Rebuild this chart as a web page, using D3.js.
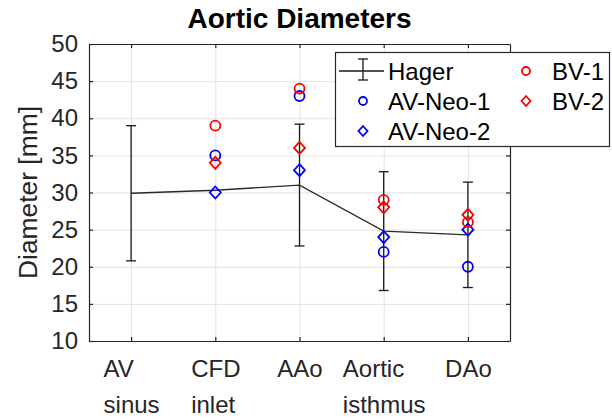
<!DOCTYPE html>
<html>
<head>
<meta charset="utf-8">
<script src="https://cdn.jsdelivr.net/npm/d3@7"></script>
<style>
  body { margin: 0; background: #fff; }
  svg { font-family: "Liberation Sans", Arial, sans-serif; }
</style>
</head>
<body>
<script>
//chart data
var categories = ["AV sinus", "CFD inlet", "AAo", "Aortic isthmus", "DAo"];
var categoryLines = [["AV", "sinus"], ["CFD", "inlet"], ["AAo"], ["Aortic", "isthmus"], ["DAo"]];
var hagerMean = [29.9, 30.3, 31.0, 24.8, 24.3];
var hagerSd = [9.1, null, 8.2, 8.0, 7.1];
var avNeo1 = [null, 35, 43, 22, 20];
var avNeo2 = [null, 30, 33, 24, 25];
var bv1 = [null, 39, 44, 29, 26];
var bv2 = [null, 34, 36, 28, 27];
var yTicks = [10, 15, 20, 25, 30, 35, 40, 45, 50];

(function(){

  var width = 612,
      height = 420,
      left = 89,
      right = 510,
      top = 44,
      bottom = 341,
      axisColor = "#262626";

  var svg = d3.select("body")
      .append("svg")
      .attr("width", width)
      .attr("height", height);

  //scales
  var x = d3.scalePoint()
      .domain(categories)
      .range([left, right])
      .padding(0.5);

  var y = d3.scaleLinear()
      .domain([10, 50])
      .range([bottom, top]);

  //grid lines
  svg.append("g")
      .attr("class", "grid")
      .attr("transform", "translate(0," + bottom + ")")
      .call(d3.axisBottom(x).tickSize(-(bottom - top)).tickFormat(""))
      .call(function(g){ g.select(".domain").remove(); });

  svg.append("g")
      .attr("class", "grid")
      .attr("transform", "translate(" + left + ",0)")
      .call(d3.axisLeft(y).tickValues(yTicks).tickSize(-(right - left)).tickFormat(""))
      .call(function(g){ g.select(".domain").remove(); });

  svg.selectAll(".grid line")
      .attr("stroke", "#e2e2e2")
      .attr("stroke-width", 1);

  //hager mean line
  var line = d3.line()
      .x(function(d, i){ return x(categories[i]); })
      .y(function(d){ return y(d); });

  svg.append("path")
      .datum(hagerMean)
      .attr("d", line)
      .attr("fill", "none")
      .attr("stroke", "#2a2a2a")
      .attr("stroke-width", 1.3);

  //error bars (mean +/- sd)
  var errData = hagerMean.map(function(m, i){
      return {cat: categories[i], mean: m, sd: hagerSd[i]};
  }).filter(function(d){ return d.sd != null; });

  var err = svg.append("g")
      .attr("stroke", "#1a1a1a")
      .attr("stroke-width", 1.3);

  err.selectAll(".errV")
      .data(errData)
      .enter()
      .append("line")
      .attr("x1", function(d){ return x(d.cat); })
      .attr("x2", function(d){ return x(d.cat); })
      .attr("y1", function(d){ return y(d.mean - d.sd); })
      .attr("y2", function(d){ return y(d.mean + d.sd); });

  [-1, 1].forEach(function(s){
      err.selectAll(".cap" + s)
          .data(errData)
          .enter()
          .append("line")
          .attr("x1", function(d){ return x(d.cat) - 5; })
          .attr("x2", function(d){ return x(d.cat) + 5; })
          .attr("y1", function(d){ return y(d.mean + s * d.sd); })
          .attr("y2", function(d){ return y(d.mean + s * d.sd); });
  });

  //marker helpers
  function diamondPath(cx, cy){
      return "M" + cx + "," + (cy - 6) + "L" + (cx + 5.5) + "," + cy +
          "L" + cx + "," + (cy + 6) + "L" + (cx - 5.5) + "," + cy + "Z";
  }

  function drawSeries(values, color, shape){
      var pts = values.map(function(v, i){ return {cat: categories[i], v: v}; })
          .filter(function(d){ return d.v != null; });
      var g = svg.append("g");
      if (shape == "circle"){
          g.selectAll("circle")
              .data(pts)
              .enter()
              .append("circle")
              .attr("cx", function(d){ return x(d.cat); })
              .attr("cy", function(d){ return y(d.v); })
              .attr("r", 5)
              .attr("fill", "none")
              .attr("stroke", color)
              .attr("stroke-width", 1.8);
      } else {
          g.selectAll("path")
              .data(pts)
              .enter()
              .append("path")
              .attr("d", function(d){ return diamondPath(x(d.cat), y(d.v)); })
              .attr("fill", "none")
              .attr("stroke", color)
              .attr("stroke-width", 1.8);
      }
  }

  drawSeries(avNeo1, "#0000ff", "circle");
  drawSeries(avNeo2, "#0000ff", "diamond");
  drawSeries(bv1, "#ff0000", "circle");
  drawSeries(bv2, "#ff0000", "diamond");

  //axes (ticks pointing inward, box on)
  var yAxis = svg.append("g")
      .attr("transform", "translate(" + left + ",0)")
      .call(d3.axisLeft(y).tickValues(yTicks).tickSizeInner(-4).tickSizeOuter(0).tickPadding(11));

  svg.append("g")
      .attr("transform", "translate(" + right + ",0)")
      .call(d3.axisRight(y).tickValues(yTicks).tickSizeInner(-4).tickSizeOuter(0).tickFormat(""));

  svg.append("g")
      .attr("transform", "translate(0," + top + ")")
      .call(d3.axisTop(x).tickSizeInner(-4).tickSizeOuter(0).tickFormat(""));

  var xAxis = svg.append("g")
      .attr("transform", "translate(0," + bottom + ")")
      .call(d3.axisBottom(x).tickSizeInner(-4).tickSizeOuter(0).tickFormat(""));

  svg.selectAll(".domain, .tick line")
      .filter(function(){ return !this.closest(".grid"); })
      .attr("stroke", axisColor)
      .attr("stroke-width", 1.2);

  yAxis.selectAll("text")
      .attr("font-size", 24)
      .attr("font-family", null)
      .attr("fill", axisColor);

  //multi-line category labels, block centred on tick, lines left aligned
  xAxis.selectAll(".tick").each(function(d, i){
      var t = d3.select(this).append("text")
          .attr("font-size", 24)
          .attr("fill", axisColor)
          .attr("text-anchor", "start");
      categoryLines[i].forEach(function(s, k){
          t.append("tspan")
              .attr("y", 36 + k * 36)
              .text(s);
      });
      var maxW = 0;
      t.selectAll("tspan").each(function(){
          maxW = Math.max(maxW, this.getComputedTextLength());
      });
      t.selectAll("tspan").attr("x", -maxW / 2);
  });

  //axis label and title
  svg.append("text")
      .attr("transform", "translate(37," + (top + bottom) / 2 + ") rotate(-90)")
      .attr("text-anchor", "middle")
      .attr("font-size", 26.4)
      .attr("fill", axisColor)
      .text("Diameter [mm]");

  svg.append("text")
      .attr("x", (left + right) / 2)
      .attr("y", 28)
      .attr("text-anchor", "middle")
      .attr("font-size", 28)
      .attr("font-weight", "bold")
      .attr("fill", "#000")
      .text("Aortic Diameters");

  //legend
  var legend = svg.append("g");

  legend.append("rect")
      .attr("x", 335.5)
      .attr("y", 52.5)
      .attr("width", 274)
      .attr("height", 94)
      .attr("fill", "#fff")
      .attr("stroke", axisColor)
      .attr("stroke-width", 1.2);

  var legendItems = [
      {name: "Hager", col: 0, row: 0, type: "err"},
      {name: "AV-Neo-1", col: 0, row: 1, type: "circle", color: "#0000ff"},
      {name: "AV-Neo-2", col: 0, row: 2, type: "diamond", color: "#0000ff"},
      {name: "BV-1", col: 1, row: 0, type: "circle", color: "#ff0000"},
      {name: "BV-2", col: 1, row: 1, type: "diamond", color: "#ff0000"}
  ];
  var colMarkX = [363, 526],
      colTextX = [388, 552],
      rowY = [71, 101, 131];

  legendItems.forEach(function(d){
      var mx = colMarkX[d.col],
          my = rowY[d.row];
      if (d.type == "err"){
          var g = legend.append("g")
              .attr("stroke", "#1a1a1a")
              .attr("stroke-width", 1.3);
          g.append("line").attr("x1", mx - 24).attr("x2", mx + 21).attr("y1", my).attr("y2", my);
          g.append("line").attr("x1", mx).attr("x2", mx).attr("y1", my - 12).attr("y2", my + 9);
          g.append("line").attr("x1", mx - 5).attr("x2", mx + 5).attr("y1", my - 12).attr("y2", my - 12);
          g.append("line").attr("x1", mx - 5).attr("x2", mx + 5).attr("y1", my + 9).attr("y2", my + 9);
      } else if (d.type == "circle"){
          legend.append("circle")
              .attr("cx", mx).attr("cy", my).attr("r", 4)
              .attr("fill", "none").attr("stroke", d.color).attr("stroke-width", 1.8);
      } else {
          legend.append("path")
              .attr("d", "M" + mx + "," + (my - 5) + "L" + (mx + 4.5) + "," + my +
                  "L" + mx + "," + (my + 5) + "L" + (mx - 4.5) + "," + my + "Z")
              .attr("fill", "none").attr("stroke", d.color).attr("stroke-width", 1.8);
      }
      legend.append("text")
          .attr("x", colTextX[d.col])
          .attr("y", my + 8.5)
          .attr("font-size", 24)
          .attr("fill", "#000")
          .text(d.name);
  });

})();
</script>
</body>
</html>
